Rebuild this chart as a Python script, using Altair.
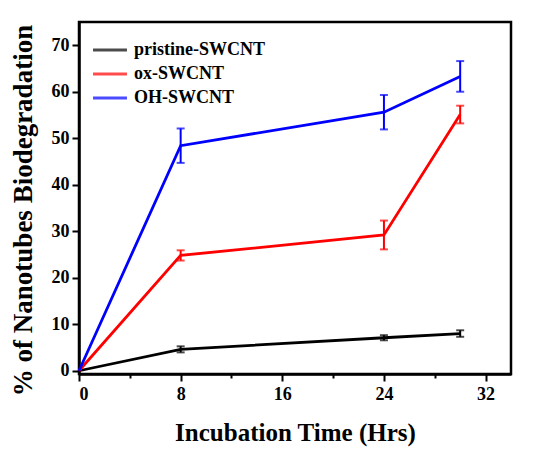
import altair as alt
import pandas as pd

# ---- data ----
time = [0, 8, 24, 30]
series_names = ["pristine-SWCNT", "ox-SWCNT", "OH-SWCNT"]
pristine = [0, 4.6, 7.1, 8.0]
pristine_err = [0, 0.65, 0.55, 0.7]
ox = [0, 24.8, 29.2, 55.1]
ox_err = [0, 1.1, 3.1, 1.9]
oh = [0, 48.4, 55.6, 63.3]
oh_err = [0, 3.7, 3.7, 3.3]
colors = ["#000000", "#ff0000", "#0000ff"]
x_ticks = [0, 4, 8, 12, 16, 20, 24, 28, 32]
y_ticks = [0, 5, 10, 15, 20, 25, 30, 35, 40, 45, 50, 55, 60, 65, 70]

rows = []
for name, vals, errs in zip(series_names, [pristine, ox, oh], [pristine_err, ox_err, oh_err]):
    for t, v, e in zip(time, vals, errs):
        rows.append({"time": t, "value": v, "err": e, "series": name,
                     "lo": v - e, "hi": v + e})
df = pd.DataFrame(rows)

FONT = "Liberation Serif"

xs = alt.Scale(domain=[0, 34], nice=False, zero=False)
ys = alt.Scale(domain=[-0.7, 75], nice=False, zero=False)

x_axis = alt.Axis(
    values=x_ticks,
    labelExpr="datum.value % 8 === 0 ? datum.label : ''",
    title="Incubation Time (Hrs)",
    grid=False,
    tickSize={"condition": {"test": "datum.value % 8 === 0", "value": 7}, "value": 4},
    labelPadding=4,
    titlePadding=17,
)
y_axis = alt.Axis(
    values=y_ticks,
    labelExpr="datum.value % 10 === 0 ? datum.label : ''",
    title="% of Nanotubes Biodegradation",
    grid=False,
    tickSize={"condition": {"test": "datum.value % 10 === 0", "value": 7}, "value": 4},
    labelPadding=3,
    titlePadding=14,
    titleY=188,
    titleFontSize=27,
)

color = alt.Color(
    "series:N",
    scale=alt.Scale(domain=series_names, range=colors),
    legend=alt.Legend(
        title=None,
        orient="none",
        legendX=22,
        legendY=19,
        symbolType="M-3,0L3,0",
        symbolSize=128,
        symbolStrokeWidth=2.8,
        labelFontSize=18,
        labelFont=FONT,
        labelFontWeight="bold",
        labelColor="#000000",
        labelOffset=15,
        rowPadding=6,
        padding=0,
    ),
    sort=series_names,
)

base = alt.Chart(df)

lines = base.mark_line(strokeWidth=2.8).encode(
    x=alt.X("time:Q", scale=xs, axis=x_axis),
    y=alt.Y("value:Q", scale=ys, axis=y_axis),
    color=color,
)

eb = base.transform_filter("datum.err > 0")

bars = eb.mark_rule(strokeWidth=2).encode(
    x=alt.X("time:Q", scale=xs),
    y=alt.Y("lo:Q", scale=ys),
    y2="hi:Q",
    color=color,
)
caps_hi = eb.mark_tick(orient="horizontal", size=8, thickness=2).encode(
    x=alt.X("time:Q", scale=xs),
    y=alt.Y("hi:Q", scale=ys),
    color=color,
)
caps_lo = eb.mark_tick(orient="horizontal", size=8, thickness=2).encode(
    x=alt.X("time:Q", scale=xs),
    y=alt.Y("lo:Q", scale=ys),
    color=color,
)

chart = alt.layer(lines, bars, caps_hi, caps_lo).properties(
    width=432,
    height=352,
    autosize=alt.AutoSizeParams(type="none"),
    padding={"left": 71, "top": 14, "right": 20, "bottom": 82},
).configure_view(
    stroke="#000000", strokeWidth=2.5
).configure_axis(
    domainColor="#000000",
    domainWidth=2.5,
    tickColor="#000000",
    tickWidth=2,
    labelFont=FONT,
    labelFontSize=18,
    labelFontWeight="bold",
    labelColor="#000000",
    titleFont=FONT,
    titleFontSize=25,
    titleFontWeight="bold",
    titleColor="#000000",
)

chart.save("out.html", embed_options={"renderer": "svg", "actions": False})
